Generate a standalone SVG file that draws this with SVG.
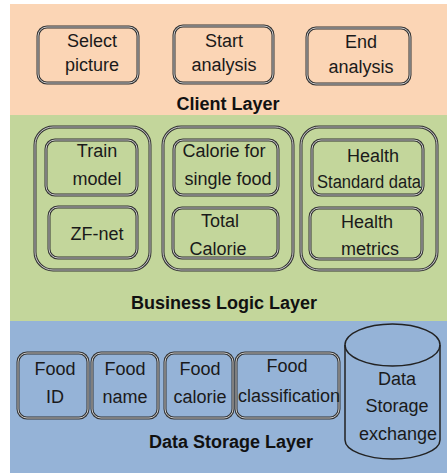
<svg xmlns="http://www.w3.org/2000/svg" width="447" height="473" viewBox="0 0 447 473">
<style>
.t{font-family:"Liberation Sans",Arial,sans-serif;font-size:18px;fill:#1a1a1a;text-anchor:middle}
.b{font-family:"Liberation Sans",Arial,sans-serif;font-size:18px;font-weight:bold;fill:#111;text-anchor:middle}
.o{fill:none;stroke:#333;stroke-width:3}
.i{fill:none;stroke:#f2f2f2;stroke-width:1;stroke-opacity:0.8}
</style>
<rect x="0" y="0" width="447" height="473" fill="#ffffff"/>
<g id="client-layer">
<rect x="10" y="4" width="437" height="111" fill="#fbd5b5"/>
<text class="b" x="228" y="110">Client Layer</text>
</g>
<g id="business-layer">
<rect x="10" y="115" width="437" height="206" fill="#c3d69b"/>
<text class="b" x="224" y="309">Business Logic Layer</text>
</g>
<g id="data-layer">
<rect x="10" y="321" width="437" height="152" fill="#95b3d7"/>
<text class="b" x="231" y="448">Data Storage Layer</text>
</g>
<g id="select-picture">
<rect class="o" x="38" y="27" width="100" height="56" rx="9"/><rect class="i" x="38" y="27" width="100" height="56" rx="9"/>
<text class="t" x="92" y="47">Select</text><text class="t" x="92" y="71">picture</text>
</g>
<g id="start-analysis">
<rect class="o" x="174" y="26" width="99" height="57" rx="9"/><rect class="i" x="174" y="26" width="99" height="57" rx="9"/>
<text class="t" x="224" y="47">Start</text><text class="t" x="224" y="71">analysis</text>
</g>
<g id="end-analysis">
<rect class="o" x="307" y="28" width="103" height="56" rx="9"/><rect class="i" x="307" y="28" width="103" height="56" rx="9"/>
<text class="t" x="361" y="48">End</text><text class="t" x="361" y="73">analysis</text>
</g>
<g id="group-model">
<rect class="o" x="35" y="127" width="115" height="143" rx="18"/><rect class="i" x="35" y="127" width="115" height="143" rx="18"/>
</g>
<g id="train-model">
<rect class="o" x="46" y="140" width="91" height="55" rx="9"/><rect class="i" x="46" y="140" width="91" height="55" rx="9"/>
<text class="t" x="97" y="157">Train</text><text class="t" x="97" y="185">model</text>
</g>
<g id="zf-net">
<rect class="o" x="49" y="207" width="88" height="51" rx="9"/><rect class="i" x="49" y="207" width="88" height="51" rx="9"/>
<text class="t" x="97" y="240">ZF-net</text>
</g>
<g id="group-calorie">
<rect class="o" x="163" y="127" width="130" height="143" rx="18"/><rect class="i" x="163" y="127" width="130" height="143" rx="18"/>
</g>
<g id="calorie-single">
<rect class="o" x="174" y="140" width="104" height="55" rx="9"/><rect class="i" x="174" y="140" width="104" height="55" rx="9"/>
<text class="t" x="224" y="157">Calorie for</text><text class="t" x="228" y="185">single food</text>
</g>
<g id="total-calorie">
<rect class="o" x="173" y="208" width="105" height="50" rx="9"/><rect class="i" x="173" y="208" width="105" height="50" rx="9"/>
<text class="t" x="220" y="227">Total</text><text class="t" x="218" y="255">Calorie</text>
</g>
<g id="group-health">
<rect class="o" x="301" y="127" width="136" height="143" rx="18"/><rect class="i" x="301" y="127" width="136" height="143" rx="18"/>
</g>
<g id="health-standard">
<rect class="o" x="312" y="140" width="111" height="55" rx="9"/><rect class="i" x="312" y="140" width="111" height="55" rx="9"/>
<text class="t" x="373" y="162">Health</text><text class="t" x="369" y="188" textLength="104" lengthAdjust="spacingAndGlyphs">Standard data</text>
</g>
<g id="health-metrics">
<rect class="o" x="310" y="208" width="112" height="51" rx="9"/><rect class="i" x="310" y="208" width="112" height="51" rx="9"/>
<text class="t" x="367" y="228">Health</text><text class="t" x="370" y="255">metrics</text>
</g>
<g id="food-id">
<rect class="o" x="18" y="353" width="70" height="65" rx="9"/><rect class="i" x="18" y="353" width="70" height="65" rx="9"/>
<text class="t" x="55" y="375">Food</text><text class="t" x="55" y="403">ID</text>
</g>
<g id="food-name">
<rect class="o" x="92" y="353" width="66" height="65" rx="9"/><rect class="i" x="92" y="353" width="66" height="65" rx="9"/>
<text class="t" x="125" y="375">Food</text><text class="t" x="125" y="403">name</text>
</g>
<g id="food-calorie">
<rect class="o" x="165" y="353" width="68" height="65" rx="9"/><rect class="i" x="165" y="353" width="68" height="65" rx="9"/>
<text class="t" x="200" y="375">Food</text><text class="t" x="200" y="403">calorie</text>
</g>
<g id="food-classification">
<rect class="o" x="236" y="353" width="103" height="65" rx="9"/><rect class="i" x="236" y="353" width="103" height="65" rx="9"/>
<text class="t" x="287" y="372">Food</text><text class="t" x="289" y="402" textLength="102" lengthAdjust="spacingAndGlyphs">classification</text>
</g>
<g id="data-storage-exchange">
<path d="M345,345 A47.5,21 0 0,1 440,345 L440,440 A47.5,19 0 0,1 345,440 Z" fill="none" stroke="#222" stroke-width="1.5"/>
<path d="M345,345 A47.5,21 0 0,0 440,345" fill="none" stroke="#222" stroke-width="1.5"/>
<text class="t" x="397" y="385">Data</text><text class="t" x="397" y="412">Storage</text><text class="t" x="398" y="440">exchange</text>
</g>
<g id="connectors"></g>
</svg>
